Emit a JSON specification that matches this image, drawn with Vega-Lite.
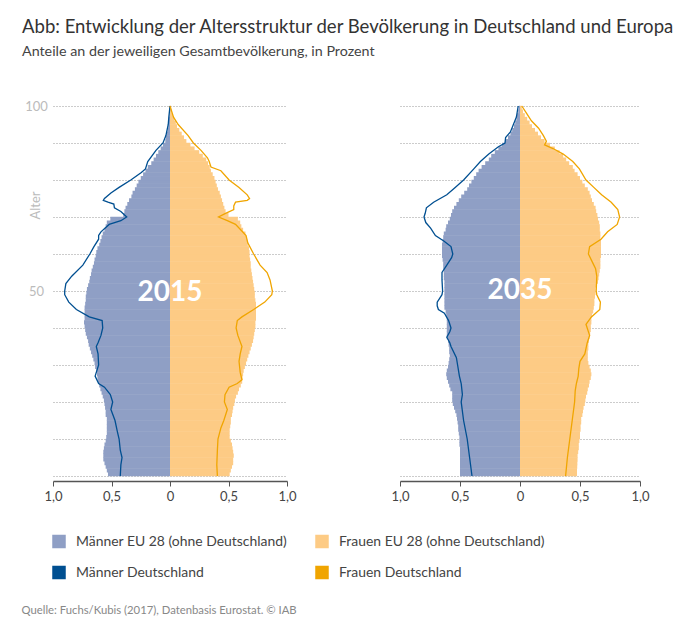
{"$schema":"https://vega.github.io/schema/vega-lite/v6.json","background":"white","padding":{"left":21,"top":18,"right":0,"bottom":0},"title":{"text":"Abb: Entwicklung der Altersstruktur der Bevölkerung in Deutschland und Europa","subtitle":"Anteile an der jeweiligen Gesamtbevölkerung, in Prozent","anchor":"start","frame":"bounds","dx":1,"offset":41,"font":"Lato","fontSize":18.55,"fontWeight":"normal","color":"#333333","subtitleFont":"Lato","subtitleFontSize":14.3,"subtitleColor":"#444444","subtitlePadding":8},
"config":{"view":{"stroke":null},"font":"Lato","axisY":{"domain":false,"ticks":false,"grid":true,"gridColor":"#999999","gridDash":[1,2],"gridWidth":1,"values":[10,20,30,40,50,60,70,80,90,100]},"axisX":{"grid":false,"domainColor":"#555555","domainWidth":1.5,"tickColor":"#555555","tickSize":5,"values":[-1,-0.75,-0.5,-0.25,0,0.25,0.5,0.75,1],"labelExpr":"datum.value==0?'0':abs(datum.value)==1?'1,0':abs(datum.value)==0.5?'0,5':''","labelFontSize":13,"labelColor":"#444444","labelFont":"Lato","labelOverlap":false,"labelFlush":false,"labelPadding":4,"zindex":1}},
"datasets":{"eu":[
{"y":2015,"a":0.5,"m":-0.53,"f":0.51},{"y":2015,"a":1.5,"m":-0.54,"f":0.52},{"y":2015,"a":2.5,"m":-0.55,"f":0.53},{"y":2015,"a":3.5,"m":-0.56,"f":0.54},{"y":2015,"a":4.5,"m":-0.57,"f":0.54},{"y":2015,"a":5.5,"m":-0.57,"f":0.545},{"y":2015,"a":6.5,"m":-0.57,"f":0.54},{"y":2015,"a":7.5,"m":-0.565,"f":0.535},{"y":2015,"a":8.5,"m":-0.56,"f":0.53},{"y":2015,"a":9.5,"m":-0.55,"f":0.52},
{"y":2015,"a":10.5,"m":-0.545,"f":0.51},{"y":2015,"a":11.5,"m":-0.54,"f":0.51},{"y":2015,"a":12.5,"m":-0.54,"f":0.51},{"y":2015,"a":13.5,"m":-0.54,"f":0.515},{"y":2015,"a":14.5,"m":-0.54,"f":0.52},{"y":2015,"a":15.5,"m":-0.54,"f":0.52},{"y":2015,"a":16.5,"m":-0.55,"f":0.53},{"y":2015,"a":17.5,"m":-0.55,"f":0.535},{"y":2015,"a":18.5,"m":-0.555,"f":0.54},{"y":2015,"a":19.5,"m":-0.56,"f":0.55},
{"y":2015,"a":20.5,"m":-0.565,"f":0.555},{"y":2015,"a":21.5,"m":-0.575,"f":0.565},{"y":2015,"a":22.5,"m":-0.585,"f":0.58},{"y":2015,"a":23.5,"m":-0.595,"f":0.59},{"y":2015,"a":24.5,"m":-0.605,"f":0.605},{"y":2015,"a":25.5,"m":-0.615,"f":0.617},{"y":2015,"a":26.5,"m":-0.62,"f":0.62},{"y":2015,"a":27.5,"m":-0.625,"f":0.625},{"y":2015,"a":28.5,"m":-0.63,"f":0.63},{"y":2015,"a":29.5,"m":-0.64,"f":0.64},
{"y":2015,"a":30.5,"m":-0.645,"f":0.65},{"y":2015,"a":31.5,"m":-0.655,"f":0.66},{"y":2015,"a":32.5,"m":-0.665,"f":0.67},{"y":2015,"a":33.5,"m":-0.675,"f":0.68},{"y":2015,"a":34.5,"m":-0.685,"f":0.69},{"y":2015,"a":35.5,"m":-0.695,"f":0.7},{"y":2015,"a":36.5,"m":-0.7,"f":0.71},{"y":2015,"a":37.5,"m":-0.71,"f":0.715},{"y":2015,"a":38.5,"m":-0.72,"f":0.72},{"y":2015,"a":39.5,"m":-0.725,"f":0.725},
{"y":2015,"a":40.5,"m":-0.73,"f":0.73},{"y":2015,"a":41.5,"m":-0.735,"f":0.73},{"y":2015,"a":42.5,"m":-0.73,"f":0.735},{"y":2015,"a":43.5,"m":-0.73,"f":0.735},{"y":2015,"a":44.5,"m":-0.73,"f":0.735},{"y":2015,"a":45.5,"m":-0.73,"f":0.735},{"y":2015,"a":46.5,"m":-0.725,"f":0.735},{"y":2015,"a":47.5,"m":-0.72,"f":0.73},{"y":2015,"a":48.5,"m":-0.72,"f":0.725},{"y":2015,"a":49.5,"m":-0.715,"f":0.725},
{"y":2015,"a":50.5,"m":-0.71,"f":0.72},{"y":2015,"a":51.5,"m":-0.7,"f":0.715},{"y":2015,"a":52.5,"m":-0.69,"f":0.71},{"y":2015,"a":53.5,"m":-0.685,"f":0.705},{"y":2015,"a":54.5,"m":-0.675,"f":0.7},{"y":2015,"a":55.5,"m":-0.67,"f":0.695},{"y":2015,"a":56.5,"m":-0.66,"f":0.69},{"y":2015,"a":57.5,"m":-0.65,"f":0.69},{"y":2015,"a":58.5,"m":-0.645,"f":0.685},{"y":2015,"a":59.5,"m":-0.635,"f":0.68},
{"y":2015,"a":60.5,"m":-0.63,"f":0.68},{"y":2015,"a":61.5,"m":-0.62,"f":0.675},{"y":2015,"a":62.5,"m":-0.605,"f":0.665},{"y":2015,"a":63.5,"m":-0.595,"f":0.66},{"y":2015,"a":64.5,"m":-0.585,"f":0.65},{"y":2015,"a":65.5,"m":-0.575,"f":0.645},{"y":2015,"a":66.5,"m":-0.56,"f":0.625},{"y":2015,"a":67.5,"m":-0.55,"f":0.61},{"y":2015,"a":68.5,"m":-0.54,"f":0.6},{"y":2015,"a":69.5,"m":-0.51,"f":0.58},
{"y":2015,"a":70.5,"m":-0.4,"f":0.5},{"y":2015,"a":71.5,"m":-0.39,"f":0.475},{"y":2015,"a":72.5,"m":-0.38,"f":0.465},{"y":2015,"a":73.5,"m":-0.365,"f":0.455},{"y":2015,"a":74.5,"m":-0.35,"f":0.445},{"y":2015,"a":75.5,"m":-0.33,"f":0.435},{"y":2015,"a":76.5,"m":-0.32,"f":0.425},{"y":2015,"a":77.5,"m":-0.3,"f":0.41},{"y":2015,"a":78.5,"m":-0.285,"f":0.4},{"y":2015,"a":79.5,"m":-0.27,"f":0.39},
{"y":2015,"a":80.5,"m":-0.25,"f":0.38},{"y":2015,"a":81.5,"m":-0.23,"f":0.365},{"y":2015,"a":82.5,"m":-0.21,"f":0.35},{"y":2015,"a":83.5,"m":-0.19,"f":0.34},{"y":2015,"a":84.5,"m":-0.16,"f":0.325},{"y":2015,"a":85.5,"m":-0.14,"f":0.31},{"y":2015,"a":86.5,"m":-0.12,"f":0.28},{"y":2015,"a":87.5,"m":-0.1,"f":0.25},{"y":2015,"a":88.5,"m":-0.08,"f":0.21},{"y":2015,"a":89.5,"m":-0.06,"f":0.175},
{"y":2015,"a":90.5,"m":-0.04,"f":0.14},{"y":2015,"a":91.5,"m":-0.035,"f":0.12},{"y":2015,"a":92.5,"m":-0.03,"f":0.1},{"y":2015,"a":93.5,"m":-0.02,"f":0.08},{"y":2015,"a":94.5,"m":-0.015,"f":0.06},{"y":2015,"a":95.5,"m":-0.01,"f":0.05},{"y":2015,"a":96.5,"m":-0.01,"f":0.035},{"y":2015,"a":97.5,"m":-0.005,"f":0.025},{"y":2015,"a":98.5,"m":-0.005,"f":0.015},{"y":2015,"a":99.5,"m":-0.005,"f":0.01},
{"y":2035,"a":0.5,"m":-0.5,"f":0.475},{"y":2035,"a":1.5,"m":-0.5,"f":0.475},{"y":2035,"a":2.5,"m":-0.5,"f":0.477},{"y":2035,"a":3.5,"m":-0.5,"f":0.478},{"y":2035,"a":4.5,"m":-0.5,"f":0.48},{"y":2035,"a":5.5,"m":-0.5,"f":0.48},{"y":2035,"a":6.5,"m":-0.5,"f":0.485},{"y":2035,"a":7.5,"m":-0.5,"f":0.49},{"y":2035,"a":8.5,"m":-0.505,"f":0.49},{"y":2035,"a":9.5,"m":-0.505,"f":0.495},
{"y":2035,"a":10.5,"m":-0.505,"f":0.5},{"y":2035,"a":11.5,"m":-0.51,"f":0.5},{"y":2035,"a":12.5,"m":-0.515,"f":0.505},{"y":2035,"a":13.5,"m":-0.515,"f":0.505},{"y":2035,"a":14.5,"m":-0.52,"f":0.51},{"y":2035,"a":15.5,"m":-0.525,"f":0.51},{"y":2035,"a":16.5,"m":-0.53,"f":0.52},{"y":2035,"a":17.5,"m":-0.54,"f":0.525},{"y":2035,"a":18.5,"m":-0.55,"f":0.53},{"y":2035,"a":19.5,"m":-0.56,"f":0.54},
{"y":2035,"a":20.5,"m":-0.565,"f":0.545},{"y":2035,"a":21.5,"m":-0.565,"f":0.55},{"y":2035,"a":22.5,"m":-0.565,"f":0.56},{"y":2035,"a":23.5,"m":-0.58,"f":0.565},{"y":2035,"a":24.5,"m":-0.59,"f":0.575},{"y":2035,"a":25.5,"m":-0.6,"f":0.58},{"y":2035,"a":26.5,"m":-0.61,"f":0.59},{"y":2035,"a":27.5,"m":-0.615,"f":0.595},{"y":2035,"a":28.5,"m":-0.61,"f":0.59},{"y":2035,"a":29.5,"m":-0.6,"f":0.58},
{"y":2035,"a":30.5,"m":-0.595,"f":0.57},{"y":2035,"a":31.5,"m":-0.59,"f":0.565},{"y":2035,"a":32.5,"m":-0.585,"f":0.565},{"y":2035,"a":33.5,"m":-0.59,"f":0.565},{"y":2035,"a":34.5,"m":-0.59,"f":0.57},{"y":2035,"a":35.5,"m":-0.595,"f":0.57},{"y":2035,"a":36.5,"m":-0.6,"f":0.575},{"y":2035,"a":37.5,"m":-0.61,"f":0.58},{"y":2035,"a":38.5,"m":-0.61,"f":0.585},{"y":2035,"a":39.5,"m":-0.61,"f":0.59},
{"y":2035,"a":40.5,"m":-0.61,"f":0.59},{"y":2035,"a":41.5,"m":-0.61,"f":0.595},{"y":2035,"a":42.5,"m":-0.61,"f":0.595},{"y":2035,"a":43.5,"m":-0.615,"f":0.6},{"y":2035,"a":44.5,"m":-0.62,"f":0.61},{"y":2035,"a":45.5,"m":-0.63,"f":0.615},{"y":2035,"a":46.5,"m":-0.63,"f":0.62},{"y":2035,"a":47.5,"m":-0.63,"f":0.62},{"y":2035,"a":48.5,"m":-0.63,"f":0.625},{"y":2035,"a":49.5,"m":-0.63,"f":0.63},
{"y":2035,"a":50.5,"m":-0.63,"f":0.63},{"y":2035,"a":51.5,"m":-0.63,"f":0.64},{"y":2035,"a":52.5,"m":-0.63,"f":0.65},{"y":2035,"a":53.5,"m":-0.635,"f":0.655},{"y":2035,"a":54.5,"m":-0.635,"f":0.66},{"y":2035,"a":55.5,"m":-0.635,"f":0.665},{"y":2035,"a":56.5,"m":-0.64,"f":0.67},{"y":2035,"a":57.5,"m":-0.64,"f":0.67},{"y":2035,"a":58.5,"m":-0.645,"f":0.67},{"y":2035,"a":59.5,"m":-0.65,"f":0.675},
{"y":2035,"a":60.5,"m":-0.65,"f":0.675},{"y":2035,"a":61.5,"m":-0.65,"f":0.675},{"y":2035,"a":62.5,"m":-0.65,"f":0.675},{"y":2035,"a":63.5,"m":-0.645,"f":0.675},{"y":2035,"a":64.5,"m":-0.64,"f":0.67},{"y":2035,"a":65.5,"m":-0.635,"f":0.67},{"y":2035,"a":66.5,"m":-0.62,"f":0.665},{"y":2035,"a":67.5,"m":-0.615,"f":0.665},{"y":2035,"a":68.5,"m":-0.6,"f":0.66},{"y":2035,"a":69.5,"m":-0.585,"f":0.65},
{"y":2035,"a":70.5,"m":-0.575,"f":0.645},{"y":2035,"a":71.5,"m":-0.565,"f":0.635},{"y":2035,"a":72.5,"m":-0.55,"f":0.63},{"y":2035,"a":73.5,"m":-0.53,"f":0.615},{"y":2035,"a":74.5,"m":-0.51,"f":0.6},{"y":2035,"a":75.5,"m":-0.49,"f":0.59},{"y":2035,"a":76.5,"m":-0.465,"f":0.58},{"y":2035,"a":77.5,"m":-0.44,"f":0.565},{"y":2035,"a":78.5,"m":-0.425,"f":0.54},{"y":2035,"a":79.5,"m":-0.405,"f":0.52},
{"y":2035,"a":80.5,"m":-0.385,"f":0.5},{"y":2035,"a":81.5,"m":-0.365,"f":0.48},{"y":2035,"a":82.5,"m":-0.345,"f":0.455},{"y":2035,"a":83.5,"m":-0.32,"f":0.44},{"y":2035,"a":84.5,"m":-0.29,"f":0.41},{"y":2035,"a":85.5,"m":-0.26,"f":0.385},{"y":2035,"a":86.5,"m":-0.24,"f":0.36},{"y":2035,"a":87.5,"m":-0.21,"f":0.33},{"y":2035,"a":88.5,"m":-0.18,"f":0.29},{"y":2035,"a":89.5,"m":-0.15,"f":0.25},
{"y":2035,"a":90.5,"m":-0.125,"f":0.205},{"y":2035,"a":91.5,"m":-0.1,"f":0.175},{"y":2035,"a":92.5,"m":-0.08,"f":0.15},{"y":2035,"a":93.5,"m":-0.065,"f":0.125},{"y":2035,"a":94.5,"m":-0.05,"f":0.1},{"y":2035,"a":95.5,"m":-0.04,"f":0.08},{"y":2035,"a":96.5,"m":-0.03,"f":0.06},{"y":2035,"a":97.5,"m":-0.025,"f":0.04},{"y":2035,"a":98.5,"m":-0.015,"f":0.025},{"y":2035,"a":99.5,"m":-0.01,"f":0.015}
],
"de15m":[{"a":0,"v":-0.425},{"a":3,"v":-0.42},{"a":5,"v":-0.41},{"a":7,"v":-0.425},{"a":10,"v":-0.435},{"a":12,"v":-0.45},{"a":15,"v":-0.47},{"a":18,"v":-0.505},{"a":20,"v":-0.49},{"a":22,"v":-0.51},{"a":24,"v":-0.56},{"a":25,"v":-0.61},{"a":27,"v":-0.64},{"a":30,"v":-0.61},{"a":33,"v":-0.615},{"a":35,"v":-0.63},{"a":36,"v":-0.615},{"a":38,"v":-0.59},{"a":40,"v":-0.575},{"a":42,"v":-0.58},{"a":43,"v":-0.69},{"a":45,"v":-0.8},{"a":47,"v":-0.865},{"a":49,"v":-0.9},{"a":50,"v":-0.9},{"a":52,"v":-0.89},{"a":54,"v":-0.84},{"a":57,"v":-0.745},{"a":60,"v":-0.685},{"a":62,"v":-0.65},{"a":64,"v":-0.61},{"a":65,"v":-0.61},{"a":66,"v":-0.59},{"a":68,"v":-0.52},{"a":69,"v":-0.42},{"a":70,"v":-0.37},{"a":71.5,"v":-0.42},{"a":72.5,"v":-0.475},{"a":73.5,"v":-0.48},{"a":74,"v":-0.53},{"a":74.5,"v":-0.57},{"a":75,"v":-0.56},{"a":76.5,"v":-0.505},{"a":78,"v":-0.435},{"a":80,"v":-0.335},{"a":82,"v":-0.245},{"a":83,"v":-0.21},{"a":85,"v":-0.19},{"a":88,"v":-0.12},{"a":90,"v":-0.06},{"a":92,"v":-0.035},{"a":95,"v":-0.015},{"a":97,"v":-0.01},{"a":100,"v":0}],
"de15f":[{"a":0,"v":0.405},{"a":3,"v":0.4},{"a":7,"v":0.405},{"a":10,"v":0.41},{"a":13,"v":0.435},{"a":15,"v":0.46},{"a":18,"v":0.49},{"a":20,"v":0.465},{"a":22,"v":0.47},{"a":24,"v":0.505},{"a":25,"v":0.575},{"a":26,"v":0.615},{"a":28,"v":0.6},{"a":31,"v":0.59},{"a":33,"v":0.6},{"a":35,"v":0.615},{"a":38,"v":0.58},{"a":40,"v":0.565},{"a":42,"v":0.575},{"a":43,"v":0.615},{"a":45,"v":0.715},{"a":47,"v":0.81},{"a":49,"v":0.87},{"a":50,"v":0.875},{"a":53,"v":0.855},{"a":55,"v":0.83},{"a":57,"v":0.77},{"a":60,"v":0.715},{"a":63,"v":0.665},{"a":65,"v":0.65},{"a":66,"v":0.62},{"a":68,"v":0.56},{"a":69,"v":0.49},{"a":70,"v":0.415},{"a":71,"v":0.475},{"a":72,"v":0.545},{"a":73,"v":0.545},{"a":74,"v":0.56},{"a":74.5,"v":0.66},{"a":75,"v":0.68},{"a":76,"v":0.66},{"a":78,"v":0.59},{"a":80,"v":0.505},{"a":82.5,"v":0.435},{"a":83.5,"v":0.35},{"a":85,"v":0.335},{"a":86,"v":0.32},{"a":88,"v":0.265},{"a":90,"v":0.2},{"a":92,"v":0.155},{"a":95,"v":0.07},{"a":97,"v":0.03},{"a":100,"v":0}],
"de35m":[{"a":0,"v":-0.4},{"a":5,"v":-0.42},{"a":10,"v":-0.44},{"a":15,"v":-0.47},{"a":20,"v":-0.49},{"a":22,"v":-0.48},{"a":25,"v":-0.49},{"a":27,"v":-0.505},{"a":30,"v":-0.52},{"a":32,"v":-0.53},{"a":35,"v":-0.575},{"a":36,"v":-0.585},{"a":37.5,"v":-0.61},{"a":39,"v":-0.585},{"a":40,"v":-0.575},{"a":42,"v":-0.595},{"a":44,"v":-0.63},{"a":45,"v":-0.68},{"a":46,"v":-0.69},{"a":47,"v":-0.69},{"a":49,"v":-0.65},{"a":50,"v":-0.645},{"a":53,"v":-0.65},{"a":55,"v":-0.65},{"a":57,"v":-0.61},{"a":59,"v":-0.57},{"a":60,"v":-0.56},{"a":62,"v":-0.575},{"a":63.5,"v":-0.635},{"a":65,"v":-0.705},{"a":67,"v":-0.745},{"a":68.5,"v":-0.785},{"a":70,"v":-0.8},{"a":71,"v":-0.79},{"a":72.5,"v":-0.78},{"a":74,"v":-0.72},{"a":76,"v":-0.61},{"a":78,"v":-0.54},{"a":80,"v":-0.47},{"a":83,"v":-0.385},{"a":85,"v":-0.33},{"a":87,"v":-0.26},{"a":89,"v":-0.18},{"a":90,"v":-0.125},{"a":91.5,"v":-0.12},{"a":93,"v":-0.08},{"a":95,"v":-0.055},{"a":97,"v":-0.03},{"a":100,"v":-0.015}],
"de35f":[{"a":0,"v":0.38},{"a":5,"v":0.395},{"a":10,"v":0.415},{"a":15,"v":0.435},{"a":20,"v":0.455},{"a":23,"v":0.46},{"a":25,"v":0.47},{"a":27,"v":0.485},{"a":29,"v":0.49},{"a":31,"v":0.5},{"a":33,"v":0.54},{"a":36,"v":0.56},{"a":38,"v":0.58},{"a":40,"v":0.56},{"a":41,"v":0.55},{"a":43,"v":0.595},{"a":45,"v":0.665},{"a":47,"v":0.67},{"a":49,"v":0.64},{"a":50,"v":0.635},{"a":54,"v":0.64},{"a":56,"v":0.63},{"a":58,"v":0.6},{"a":60,"v":0.57},{"a":62,"v":0.58},{"a":64,"v":0.675},{"a":66,"v":0.73},{"a":68,"v":0.81},{"a":70,"v":0.83},{"a":72,"v":0.815},{"a":74,"v":0.76},{"a":76,"v":0.68},{"a":78,"v":0.615},{"a":80,"v":0.55},{"a":83,"v":0.495},{"a":85,"v":0.44},{"a":87,"v":0.36},{"a":88.5,"v":0.275},{"a":89.5,"v":0.205},{"a":90.5,"v":0.22},{"a":92,"v":0.195},{"a":94,"v":0.155},{"a":96,"v":0.095},{"a":98,"v":0.055},{"a":100,"v":0.015}]},
"hconcat":[
{"width":234,"height":380,"layer":[
{"data":{"name":"eu"},"transform":[{"filter":"datum.y==2015"}],"mark":{"type":"bar","orient":"horizontal","size":4.2},"encoding":{"x":{"field":"m","type":"quantitative","scale":{"domain":[-1,1],"nice":false},"axis":{"title":"Quelle: Fuchs/Kubis (2017), Datenbasis Eurostat. © IAB","titleX":-32,"titleY":123,"titleAlign":"left","titleFontSize":11.3,"titleFontWeight":"normal","titleColor":"#888888","titleFont":"Lato"}},"y":{"field":"a","type":"quantitative","scale":{"domain":[0,100],"nice":false},"axis":{"title":"Alter","titleX":-10.5,"titleY":104,"titleFontSize":13,"titleFontWeight":"normal","titleColor":"#bbbbbb","titleFont":"Lato","labelExpr":"datum.value==100||datum.value==50?datum.label:''","labelColor":"#bbbbbb","labelFontSize":13,"labelAlign":"center","labelPadding":17,"labelFont":"Lato"}},"color":{"datum":"Männer EU 28 (ohne Deutschland)","scale":{"domain":["Männer EU 28 (ohne Deutschland)","Frauen EU 28 (ohne Deutschland)","Männer Deutschland","Frauen Deutschland"],"range":["#8F9FC5","#FDCB85","#004F91","#F0A500"]},"legend":{"title":null,"orient":"none","legendX":-1,"legendY":433.5,"columns":2,"direction":"horizontal","symbolType":"square","symbolSize":144,"labelFontSize":13.95,"labelFont":"Lato","labelColor":"#444444","labelLimit":300,"labelOffset":10,"rowPadding":13,"columnPadding":25,"encode":{"symbols":{"update":{"fill":{"scale":"color","field":"value"},"stroke":{"value":"transparent"},"opacity":{"value":1}}}}}}}},
{"data":{"name":"eu"},"transform":[{"filter":"datum.y==2015"}],"mark":{"type":"bar","orient":"horizontal","size":4.2},"encoding":{"x":{"field":"f","type":"quantitative"},"y":{"field":"a","type":"quantitative"},"color":{"datum":"Frauen EU 28 (ohne Deutschland)"}}},
{"data":{"name":"de15m"},"mark":{"type":"line","strokeWidth":1.3},"encoding":{"x":{"field":"v","type":"quantitative"},"y":{"field":"a","type":"quantitative"},"order":{"field":"a"},"color":{"datum":"Männer Deutschland"}}},
{"data":{"name":"de15f"},"mark":{"type":"line","strokeWidth":1.3},"encoding":{"x":{"field":"v","type":"quantitative"},"y":{"field":"a","type":"quantitative"},"order":{"field":"a"},"color":{"datum":"Frauen Deutschland"}}},
{"data":{"values":[{"t":"2015"}]},"mark":{"type":"text","fontSize":28,"fontWeight":"bold","color":"white","font":"Lato"},"encoding":{"text":{"field":"t"},"x":{"datum":0},"y":{"datum":49.5}}}
]},
{"width":240,"height":380,"layer":[
{"data":{"name":"eu"},"transform":[{"filter":"datum.y==2035"}],"mark":{"type":"bar","orient":"horizontal","size":4.2},"encoding":{"x":{"field":"m","type":"quantitative","scale":{"domain":[-1,1],"nice":false},"axis":{"title":null}},"y":{"field":"a","type":"quantitative","scale":{"domain":[0,100],"nice":false},"axis":{"title":null,"labels":false}},"color":{"datum":"Männer EU 28 (ohne Deutschland)"}}},
{"data":{"name":"eu"},"transform":[{"filter":"datum.y==2035"}],"mark":{"type":"bar","orient":"horizontal","size":4.2},"encoding":{"x":{"field":"f","type":"quantitative"},"y":{"field":"a","type":"quantitative"},"color":{"datum":"Frauen EU 28 (ohne Deutschland)"}}},
{"data":{"name":"de35m"},"mark":{"type":"line","strokeWidth":1.3},"encoding":{"x":{"field":"v","type":"quantitative"},"y":{"field":"a","type":"quantitative"},"order":{"field":"a"},"color":{"datum":"Männer Deutschland"}}},
{"data":{"name":"de35f"},"mark":{"type":"line","strokeWidth":1.3},"encoding":{"x":{"field":"v","type":"quantitative"},"y":{"field":"a","type":"quantitative"},"order":{"field":"a"},"color":{"datum":"Frauen Deutschland"}}},
{"data":{"values":[{"t":"2035"}]},"mark":{"type":"text","fontSize":28,"fontWeight":"bold","color":"white","font":"Lato"},"encoding":{"text":{"field":"t"},"x":{"datum":0},"y":{"datum":50}}}
]}
],"spacing":93,
"resolve":{"scale":{"color":"shared"},"legend":{"color":"shared"}}
}
